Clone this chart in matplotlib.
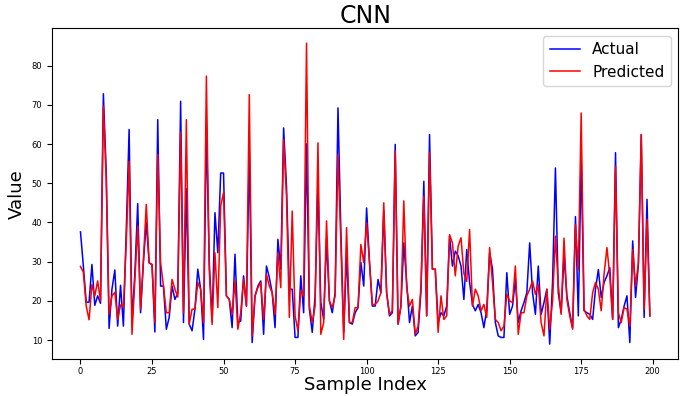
import matplotlib
matplotlib.use("Agg")
import matplotlib.pyplot as plt
import numpy as np

actual = [
    37.6, 28.9, 19.7, 19.7, 29.3, 18.9, 21.3, 19.4, 72.8, 52.7,
    13.0, 23.0, 27.9, 13.6, 24.0, 13.6, 38.0, 63.7, 14.5, 27.0,
    44.8, 17.0, 30.0, 40.0, 29.7, 29.3, 12.1, 66.2, 23.8, 23.8,
    12.8, 15.8, 23.8, 20.4, 22.0, 70.9, 14.5, 48.6, 14.1, 12.4,
    17.9, 28.1, 23.0, 10.2, 64.5, 30.0, 15.0, 42.5, 32.3, 52.6,
    52.6, 21.3, 20.4, 13.2, 31.9, 14.5, 14.9, 26.4, 18.7, 58.0,
    9.4, 21.3, 23.8, 25.1, 11.5, 28.9, 26.0, 22.1, 13.2, 35.7,
    28.1, 64.1, 49.3, 23.0, 23.0, 10.7, 10.7, 26.4, 17.0, 60.0,
    17.9, 12.0, 21.3, 49.5, 19.6, 15.3, 35.7, 20.0, 17.0, 22.1,
    69.2, 38.0, 12.0, 32.0, 14.5, 14.1, 17.0, 18.3, 29.8, 23.8,
    43.7, 30.0, 18.7, 18.7, 25.5, 22.1, 43.0, 22.1, 16.2, 17.0,
    59.9, 14.1, 18.7, 34.8, 24.7, 14.5, 18.7, 11.1, 12.0, 22.5,
    50.5, 16.2, 62.4, 28.1, 28.1, 14.5, 17.0, 16.2, 18.7, 36.5,
    28.9, 32.7, 31.5, 28.9, 20.4, 33.1, 24.7, 19.1, 17.5, 19.1,
    17.0, 13.2, 17.9, 32.3, 28.1, 14.5, 11.1, 10.7, 10.7, 27.2,
    16.6, 18.7, 25.5, 14.5, 17.5, 19.6, 22.1, 34.8, 22.1, 16.6,
    28.9, 16.6, 19.6, 23.0, 9.0, 25.0, 53.9, 22.0, 17.0, 31.5,
    21.3, 17.0, 13.2, 41.5, 16.2, 56.5, 17.5, 17.0, 16.6, 15.3,
    23.0, 28.0, 20.9, 24.7, 26.4, 28.5, 15.3, 57.8, 13.2, 15.3,
    18.7, 21.3, 9.4, 35.3, 20.9, 29.3, 62.4, 15.8, 45.9, 16.2,
]

predicted = [
    28.8, 27.3, 18.7, 15.2, 24.2, 21.3, 25.1, 20.0, 69.6, 51.0,
    16.6, 21.3, 22.2, 15.3, 19.0, 18.5, 35.0, 55.6, 11.5, 25.5,
    39.1, 17.9, 30.6, 44.6, 29.7, 29.3, 14.5, 57.3, 29.8, 23.8,
    17.0, 17.0, 25.5, 23.0, 21.0, 63.0, 17.0, 66.2, 14.1, 17.9,
    17.9, 24.7, 23.0, 14.5, 77.3, 28.0, 14.0, 32.3, 18.3, 44.2,
    47.6, 21.3, 20.4, 16.6, 25.1, 12.8, 17.0, 25.5, 18.7, 72.6,
    11.1, 21.3, 23.4, 24.7, 15.3, 26.8, 23.8, 22.1, 16.6, 32.3,
    23.4, 61.1, 46.7, 15.8, 42.9, 16.2, 12.4, 22.5, 21.3, 85.7,
    18.7, 14.5, 18.7, 60.3, 11.5, 14.5, 40.4, 20.0, 18.3, 21.3,
    57.3, 35.0, 10.2, 38.7, 14.5, 14.5, 18.3, 18.3, 34.4, 29.8,
    39.9, 30.0, 19.1, 19.1, 20.0, 22.1, 45.0, 22.1, 16.6, 17.5,
    58.2, 14.1, 18.7, 45.5, 23.4, 18.7, 20.4, 11.5, 13.6, 23.8,
    46.7, 16.2, 57.8, 28.1, 28.1, 12.0, 21.3, 15.3, 16.2, 36.9,
    34.8, 26.4, 34.0, 36.1, 27.0, 25.0, 38.2, 18.7, 23.0, 21.3,
    17.5, 19.1, 15.8, 33.6, 24.7, 15.3, 14.5, 12.4, 13.6, 21.7,
    20.0, 19.6, 28.9, 11.5, 17.0, 17.0, 21.3, 23.0, 25.1, 21.7,
    24.2, 14.5, 11.1, 23.0, 12.8, 20.0, 36.5, 24.0, 16.6, 36.0,
    20.4, 16.2, 12.8, 39.5, 28.0, 67.9, 17.9, 16.2, 15.3, 22.1,
    24.7, 23.0, 17.5, 26.8, 33.6, 26.4, 15.3, 54.3, 17.0, 14.5,
    18.3, 17.9, 13.6, 33.1, 23.8, 29.8, 62.4, 17.9, 40.8, 16.2,
]

title = "CNN"
xlabel = "Sample Index"
ylabel = "Value"

fig = plt.figure(figsize=(6.89, 3.96), dpi=100)
ax = fig.add_axes([0.0755, 0.093, 0.909, 0.836])
x = np.arange(len(actual))
ax.plot(x, actual, color="blue", linewidth=1.1, label="Actual")
ax.plot(x, predicted, color="red", linewidth=1.1, label="Predicted")
ax.set_title(title, fontsize=17, pad=4)
ax.set_xlabel(xlabel, fontsize=13, labelpad=0)
ax.set_ylabel(ylabel, fontsize=13, labelpad=4)
ax.tick_params(labelsize=6)
ax.tick_params(axis="x", pad=2)
ax.legend(loc="upper right", fontsize=11)
fig.savefig("out.png", dpi=100)
